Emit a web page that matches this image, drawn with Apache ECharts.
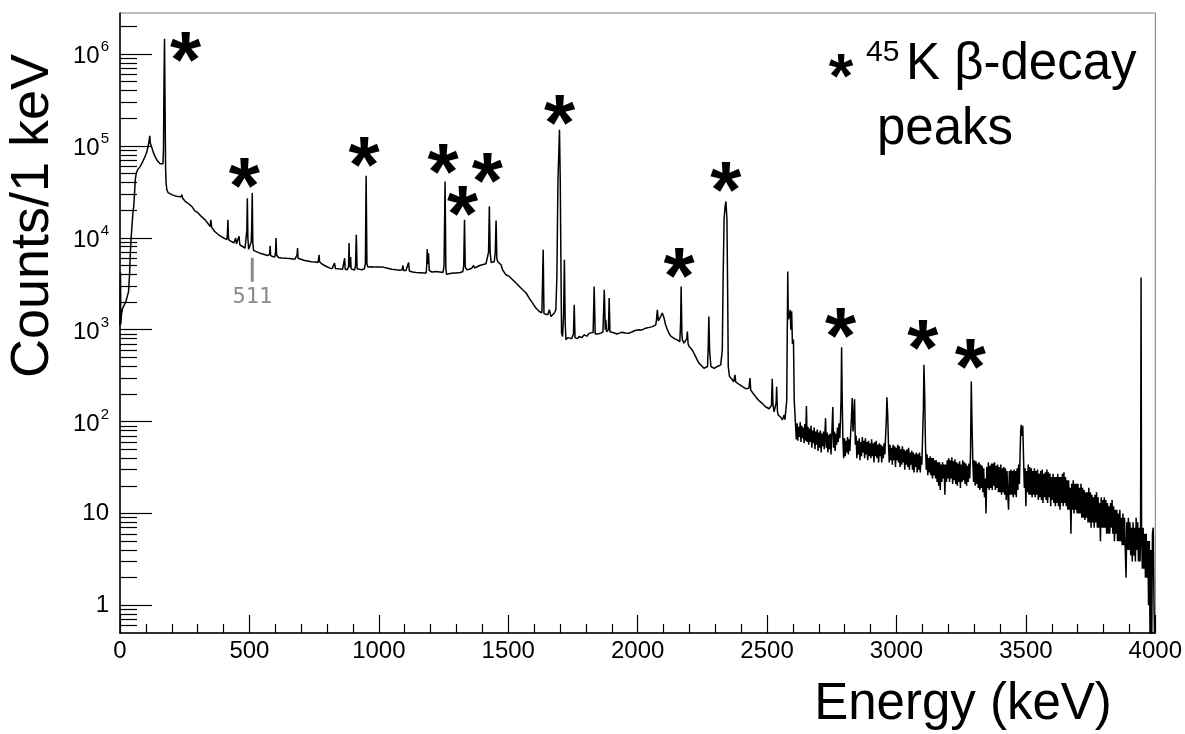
<!DOCTYPE html>
<html>
<head>
<meta charset="utf-8">
<script src="https://cdn.jsdelivr.net/npm/echarts@6/dist/echarts.min.js"></script>
<style>
  html, body { margin: 0; padding: 0; background: #fff; }
  #chart { width: 1185px; height: 734px; }
</style>
</head>
<body>
<div id="chart"></div>
<script>
// Gamma-ray spectrum, [energy (keV), counts per 1 keV bin]
const spectrumLow = [
  [0,1100],[2,4200],[3,1150],[6,1500],[10,1700],[16,1850],[22,2000],[28,2300],[33,2600],[37,4000],
  [40,6900],[43,10000],[46,13300],[50,18800],[53,21900],[56,30000],[59,43000],[62,49000],[65,53000],
  [70,56000],[78,60000],[85,65000],[91,70800],[98,78000],[104,87200],[108,98000],[111,107000],
  [113,118000],[115,129000],[117,108000],[120,103000],[125,92000],[130,83500],[137,75000],[143,70000],
  [149,68000],[155,64000],[162,62500],[166,64000],[168,90000],[170,500000],[172,1470000],[174,300000],
  [176,60000],[178,39500],[181,33400],[186,31000],[192,30200],[200,29500],[210,28800],[218,28400],
  [226,28200],[236,28000],[239,29500],[242,27000],[252,25000],[265,23500],[278,21900],[290,19500],
  [294,19000],[297,19700],[300,18900],[315,17000],[329,15700],[340,14300],[348,13300],[351,15700],
  [354,13100],[365,11800],[381,10800],[395,10200],[405,9800],[413,9550],[415,11000],[417,15700],
  [419,10000],[422,9400],[432,9100],[440,8800],[445,8700],[447,9950],[450,8600],[457,8500],[460,10400],
  [463,8400],[472,8100],[483,7740],[488,7600],[490,12000],[492,27000],[494,10000],[497,7500],[503,7400],
  [507,9000],[509,14000],[511,30700],[513,9000],[516,7300],[522,7100],[535,6900],[548,6700],[561,6550],
  [570,6400],[576,6300],[578,6600],[580,8200],[582,6400],[590,6250],[598,6200],[601,7000],[603,9950],
  [605,6500],[612,6100],[625,6050],[640,6000],[655,5950],[668,5900],[676,5870],[682,5900],[684,6500],
  [686,7740],[688,6000],[695,5800],[710,5700],[725,5600],[740,5500],[755,5450],[765,5400],[767,5800],
  [769,6550],[771,5500],[780,5200],[790,5000],[800,4850]
];

const spectrumMid = [
  [811,4680],[820,4650],[826,4700],[829,5300],[832,4650],[845,4600],[860,4550],[866,4700],[868,6000],
  [870,4550],[878,4500],[883,4800],[885,8800],[887,4800],[889,5500],[891,6200],[893,4600],[900,4500],
  [906,4450],[910,5000],[913,10800],[916,4600],[925,4550],[935,4500],[944,4600],[948,5200],[951,47500],
  [954,5200],[958,4800],[970,4850],[985,4800],[1000,4800],[1016,4800],[1030,4700],[1050,4550],
  [1067,4490],[1080,4450],[1090,4500],[1093,5000],[1096,4400],[1105,4400],[1112,4500],[1115,5400],
  [1118,4350],[1130,4250],[1144,4200],[1160,4180],[1175,4150],[1183,4140],[1185,5000],[1187,7550],
  [1189,5200],[1192,6800],[1195,4400],[1205,4250],[1221,4300],[1235,4250],[1248,4200],[1252,5000],
  [1256,41100],[1259,4500],[1262,4000],[1275,4100],[1290,4150],[1299,4140],[1315,4200],[1325,4300],
  [1328,5000],[1331,15700],[1334,4800],[1340,4500],[1350,4550],[1360,4700],[1366,5000],[1370,4700],
  [1376,4890],[1390,5000],[1400,5100],[1414,5220],[1420,5300],[1424,7000],[1427,22000],[1430,7000],
  [1434,5400],[1440,5400],[1446,5500],[1450,7000],[1453,15400],[1456,6000],[1459,5530],[1465,5300],
  [1472,5090],[1478,4490],[1491,3960],[1504,3800],[1517,3500],[1530,3220],[1543,2960],[1556,2720],
  [1569,2510],[1581,2210],[1594,1950],[1607,1720],[1620,1580],[1630,1530],[1633,1515],[1635,7420],
  [1638,1500],[1645,1480],[1652,1450],[1659,1650],[1665,1390],[1672,1400],[1678,1520],[1684,1650],
  [1688,3800],[1692,41100],[1698,150000],[1701,41100],[1704,3800],[1706,918],[1710,844],[1714,1500],
  [1717,5770],[1720,1200],[1723,776],[1730,820],[1736,844],[1745,800],[1752,900],[1755,1870],[1758,820],
  [1761,844],[1768,800],[1774,844],[1784,820],[1794,880],[1804,850],[1813,918],[1828,930],[1832,2960],
  [1836,900],[1845,900],[1858,918],[1866,950],[1871,2720],[1875,1000],[1877,1280],[1880,950],[1887,1000],
  [1890,2210],[1893,950],[1897,918],[1910,920],[1920,900],[1929,918],[1940,940],[1950,920],[1967,918],
  [1980,950],[1990,980],[2006,1000],[2015,990],[2031,1040],[2045,1060],[2057,1080],[2070,1130],
  [2073,1300],[2076,1650],[2080,1250],[2083,1280],[2089,1390],[2095,1520],[2102,1340],[2108,1130],
  [2115,1000],[2121,918],[2128,850],[2134,810],[2145,790],[2153,776],[2163,742],[2166,1200],[2168,2960],
  [2171,900],[2173,776],[2179,714],[2186,740],[2190,800],[2192,955],[2195,700],[2199,656],[2205,630],
  [2211,600],[2218,550],[2224,510],[2230,470],[2237,433],[2245,410],[2256,380],[2263,390],[2270,398],
  [2273,700],[2275,1390],[2278,600],[2283,398],[2290,390],[2296,380],[2302,395],[2308,398],[2315,405],
  [2321,415],[2327,600],[2330,3220],[2334,16400],[2338,22000],[2341,24900],[2345,15800],[2348,2100],
  [2350,398],[2355,309],[2360,300],[2366,285],[2371,270],[2374,300],[2376,323],[2379,270],[2385,262],
  [2391,255],[2398,250],[2405,240],[2411,231],[2418,228],[2424,222],[2430,230],[2434,297],[2437,220],
  [2440,213],[2445,205],[2449,195],[2455,188],[2462,180],[2468,170],[2475,165],[2481,158],[2488,152],
  [2494,145],[2501,140],[2508,138],[2514,135],[2517,150],[2520,292],[2523,150],[2527,128],[2530,132],
  [2533,132],[2535,160],[2537,240],[2540,130],[2543,118],[2550,122],[2555,110],[2559,104],[2566,118],
  [2569,105],[2572,100],[2576,170],[2578,900],[2580,4300],[2582,1300],[2586,1400],[2589,1650],
  [2592,1000],[2595,1590],[2598,700],[2602,780],[2605,170]
];

const spectrumHigh = [
  [2610,92],[2613,64],[2616,96],[2619,62],[2622,88],[2625,68],[2628,98],[2631,60],[2634,90],[2637,66],
  [2640,86],[2643,58],[2646,94],[2649,62],[2652,148],[2655,60],[2658,88],[2661,56],[2664,84],[2667,60],
  [2670,90],[2673,52],[2676,80],[2679,58],[2682,86],[2685,50],[2688,78],[2691,56],[2694,82],[2697,48],
  [2700,76],[2703,52],[2706,80],[2709,46],[2712,74],[2715,54],[2718,78],[2721,50],[2724,80],[2726,109],
  [2729,52],[2732,76],[2735,46],[2738,72],[2741,50],[2744,74],[2747,44],[2750,70],[2754,144],[2757,52],
  [2760,78],[2763,48],[2766,74],[2769,56],[2772,86],[2775,60],[2778,96],[2781,66],[2784,110],[2786,180],
  [2788,646],[2790,200],[2793,64],[2796,40],[2799,66],[2802,42],[2805,62],[2808,46],[2811,68],[2814,44],
  [2817,64],[2820,48],[2823,76],[2826,110],[2829,180],[2832,78],[2835,110],[2838,175],[2841,56],[2844,70],
  [2847,40],[2850,62],[2853,44],[2856,66],[2859,38],[2862,60],[2865,42],[2868,68],[2871,46],[2874,62],
  [2877,40],[2880,66],[2883,44],[2886,60],[2889,38],[2892,62],[2895,42],[2898,58],[2901,40],[2904,64],
  [2907,42],[2910,58],[2913,36],[2916,60],[2919,42],[2922,62],[2925,40],[2928,56],[2931,36],[2934,58],
  [2937,42],[2940,56],[2943,36],[2946,54],[2949,40],[2952,58],[2955,44],[2958,70],[2961,110],[2963,184],
  [2966,120],[2969,58],[2972,36],[2975,56],[2978,38],[2981,52],[2984,34],[2987,56],[2990,38],[2993,54],
  [2996,32],[2999,52],[3002,38],[3005,56],[3008,36],[3011,54],[3014,32],[3017,50],[3020,34],[3023,54],
  [3026,36],[3029,50],[3032,30],[3035,48],[3038,34],[3041,50],[3044,32],[3047,52],[3050,30],[3053,46],
  [3056,34],[3059,48],[3062,30],[3065,46],[3068,28],[3071,44],[3074,32],[3077,46],[3080,28],[3083,44],
  [3086,30],[3089,46],[3092,28],[3095,42],[3098,34],[3101,70],[3104,140],[3106,415],[3109,200],[3112,56],
  [3115,30],[3118,44],[3121,26],[3124,40],[3127,28],[3130,42],[3133,26],[3136,40],[3139,24],[3142,40],
  [3145,26],[3148,38],[3151,24],[3154,38],[3157,22],[3160,36],[3163,20],[3166,36],[3169,18],[3172,34],
  [3175,22],[3178,36],[3181,24],[3184,34],[3187,16],[3190,34],[3193,22],[3196,38],[3199,24],[3202,40],
  [3205,22],[3208,38],[3211,24],[3214,41],[3217,21],[3220,37],[3223,23],[3226,39],[3229,21],[3232,36],
  [3235,20],[3238,35],[3241,22],[3244,37],[3247,19],[3250,34],[3253,22],[3256,38],[3259,23],[3262,36],
  [3265,21],[3268,35],[3271,20],[3274,33],[3277,22],[3280,35],[3283,24],[3286,44],[3289,273],[3292,90],
  [3295,36],[3298,22],[3301,38],[3304,20],[3307,37],[3310,21],[3313,35],[3316,19],[3319,36],[3322,18],
  [3325,34],[3328,19],[3331,33],[3334,17],[3337,31],[3340,15],[3343,24],[3346,10],[3349,32],[3352,19],
  [3355,36],[3358,18],[3361,33],[3364,19],[3367,35],[3370,18],[3373,35],[3376,20],[3379,36],[3382,18],
  [3385,33],[3388,19],[3391,34],[3394,17],[3397,32],[3400,17],[3403,34],[3406,16],[3409,31],[3412,17],
  [3415,32],[3418,16],[3421,31],[3424,14],[3427,29],[3430,16],[3433,11],[3436,29],[3439,16],[3442,30],
  [3445,16],[3448,29],[3451,15],[3454,30],[3457,16],[3460,29],[3463,15],[3466,31],[3469,18],[3472,34],
  [3475,21],[3478,50],[3480,80],[3482,92],[3485,70],[3488,90],[3491,40],[3494,19],[3497,31],[3500,12],
  [3503,29],[3506,17],[3509,34],[3512,16],[3515,32],[3518,16],[3521,31],[3524,15],[3527,29],[3530,16],
  [3533,31],[3536,15],[3539,29],[3542,16],[3545,30],[3548,14],[3551,27],[3554,15],[3557,29],[3560,14],
  [3563,30],[3566,13],[3569,27],[3572,15],[3575,28],[3578,14],[3581,30],[3584,13],[3587,28],[3590,15],
  [3593,27],[3596,12],[3599,25],[3602,14],[3605,27],[3608,13],[3611,25],[3614,12],[3617,25],[3620,13],
  [3623,27],[3626,12],[3629,25],[3632,11],[3635,25],[3638,13],[3641,27],[3644,12],[3647,28],[3650,13],
  [3653,25],[3656,12],[3659,23],[3662,11],[3665,23],[3668,11],[3671,19],[3674,6],[3677,21],[3680,11],
  [3683,23],[3686,10],[3689,21],[3692,11],[3695,21],[3698,10],[3701,21],[3704,10],[3707,19],[3710,10],
  [3713,21],[3716,9],[3719,19],[3722,9],[3725,18],[3728,8.5],[3731,17],[3734,9],[3737,17],[3740,8],
  [3743,19],[3746,8],[3749,17],[3752,7],[3755,16],[3758,8],[3761,15],[3764,7],[3767,16],[3770,8],
  [3773,17],[3776,7],[3779,15],[3782,7],[3785,13],[3788,5],[3791,15],[3794,7],[3797,14],[3800,7],
  [3803,15],[3806,7],[3809,14],[3812,6],[3815,13],[3818,6],[3821,12],[3824,6],[3827,13],[3830,7],
  [3833,14],[3836,6],[3839,12],[3842,5],[3845,11],[3848,6],[3851,11],[3854,5],[3857,10],[3860,5],
  [3863,11],[3866,5],[3869,9],[3872,4.5],[3875,10],[3878,4.5],[3881,9],[3884,4],[3887,2],[3890,8],
  [3893,4],[3896,9],[3899,4],[3902,8],[3905,3.5],[3908,7],[3911,3],[3914,8],[3917,3.5],[3920,7],
  [3923,3],[3926,9],[3929,4],[3932,8],[3935,3],[3938,7],[3941,3],[3943,6],[3945,3700],[3947,6],
  [3950,2.5],[3953,7],[3956,2.5],[3959,6],[3962,2],[3965,6],[3968,2],[3971,5],[3974,1],[3977,5],
  [3980,0.3],[3983,4],[3986,0.3],[3989,6],[3992,7],[3995,1],[3998,0.3],[4000,0.3]
];

// Peaks attributed to the 45K beta decay: [energy, peak counts]
const betaPeaks = [
  [172,1470000],[492,27000],[951,47500],[1256,41100],[1331,15700],[1427,22000],
  [1698,150000],[2168,2960],[2341,24900],[2788,646],[3106,415],[3289,273]
];
// pixel offset of each asterisk from its peak top
const starOffsets = [
  [21,8],[-3,-26],[-2,-24],[-2,-23],[-2,-19],[-2,-39],
  [0,-20],[-2,-24],[0,-25],[-1,-25],[-1,-30],[-1,-28]
];

// 511 keV annihilation line marker
const annihilationEnergy = 511;
const annihilationMarkerLevel = 4490;

// decade ticks of the count axis
const decades = [1, 10, 100, 1000, 10000, 100000, 1000000];

const xTickStep = 500;
const FONT = '"Liberation Sans", Arial, Helvetica, sans-serif';
const STAR_SIZE = 80;

const spectrum = spectrumLow.concat(spectrumMid, spectrumHigh);

function logLabel(v) {
  const l = Math.log10(v);
  const e = Math.round(l);
  if (Math.abs(l - e) > 1e-6) return '';
  if (e === 0) return '{b|1}';
  if (e === 1) return '{b|10}';
  return '{b|10}{s|' + e + '}';
}

const chart = echarts.init(document.getElementById('chart'), null, { renderer: 'canvas' });

chart.setOption({
  animation: false,
  backgroundColor: '#ffffff',
  grid: {
    left: 120, right: 28, top: 13, bottom: 101,
    show: true, borderColor: '#7a7a7a', borderWidth: 1, backgroundColor: 'transparent'
  },
  xAxis: {
    type: 'value', min: 0, max: 4000, interval: xTickStep,
    axisLine: { show: true, lineStyle: { color: '#000', width: 1.5 } },
    axisTick: { show: true, inside: true, length: 18, lineStyle: { color: '#000', width: 1.2 } },
    minorTick: { show: true, splitNumber: 5, length: 9, lineStyle: { color: '#000', width: 1.2 } },
    splitLine: { show: false },
    axisLabel: { fontSize: 24, fontFamily: FONT, color: '#000', margin: 6, formatter: v => String(v) }
  },
  yAxis: {
    type: 'log', logBase: 10, min: 0.5, max: 2.8e6,
    axisLine: { show: true, lineStyle: { color: '#000', width: 1.5 } },
    axisTick: { show: true, inside: true, length: 32, customValues: decades, lineStyle: { color: '#000', width: 1.2 } },
    minorTick: { show: true, splitNumber: 9, length: 17, lineStyle: { color: '#000', width: 1.2 } },
    splitLine: { show: false },
    axisLabel: {
      margin: 11, color: '#000', fontFamily: FONT,
      customValues: decades,
      formatter: logLabel,
      rich: {
        b: { fontSize: 24, fontFamily: FONT, color: '#000', verticalAlign: 'bottom' },
        s: { fontSize: 15, fontFamily: FONT, color: '#000', verticalAlign: 'top', padding: [0, 0, 14, 1] }
      }
    }
  },
  series: [
    {
      name: 'spectrum', type: 'line', data: spectrum,
      showSymbol: false, symbol: 'none', clip: true, z: 3,
      lineStyle: { color: '#000', width: 1.5 }
    },
    {
      name: 'beta', type: 'scatter', symbolSize: 0, z: 4,
      itemStyle: { opacity: 1 },
      data: betaPeaks.map((p, i) => ({
        value: p,
        label: { offset: [starOffsets[i][0], starOffsets[i][1] + 0.23 * STAR_SIZE] }
      })),
      label: {
        show: true, position: 'inside', formatter: '*',
        fontSize: STAR_SIZE, fontWeight: 'bold', fontFamily: FONT, color: '#000'
      }
    },
    {
      name: 'annihilation', type: 'scatter', z: 4,
      data: [[annihilationEnergy, annihilationMarkerLevel]],
      symbol: 'rect', symbolSize: [3, 24],
      itemStyle: { color: '#8a8a8a', opacity: 1 },
      label: {
        show: true, position: 'bottom', distance: 4, formatter: String(annihilationEnergy),
        fontSize: 22, fontFamily: '"DejaVu Sans Mono", monospace', color: '#8a8a8a'
      }
    }
  ],
  graphic: [
    {
      type: 'text', x: 33, y: 216, rotation: Math.PI / 2,
      style: { text: 'Counts/1 keV', fontSize: 54, fontFamily: FONT, fill: '#000', align: 'center', verticalAlign: 'middle' }
    },
    {
      type: 'text', x: 963, y: 705,
      style: { text: 'Energy (keV)', fontSize: 51, fontFamily: FONT, fill: '#000', align: 'center', verticalAlign: 'middle' }
    },
    {
      type: 'text', x: 841, y: 80,
      style: { text: '*', fontSize: 63, fontWeight: 'bold', fontFamily: FONT, fill: '#000', align: 'center', verticalAlign: 'middle' }
    },
    {
      type: 'text', x: 866, y: 53,
      style: { text: '45', fontSize: 30, fontFamily: FONT, fill: '#000', align: 'left', verticalAlign: 'middle' }
    },
    {
      type: 'text', x: 906, y: 65,
      style: { text: 'K \u03B2-decay', fontSize: 51, fontFamily: FONT, fill: '#000', align: 'left', verticalAlign: 'middle' }
    },
    {
      type: 'text', x: 877, y: 130,
      style: { text: 'peaks', fontSize: 51, fontFamily: FONT, fill: '#000', align: 'left', verticalAlign: 'middle' }
    }
  ]
});
</script>
</body>
</html>
